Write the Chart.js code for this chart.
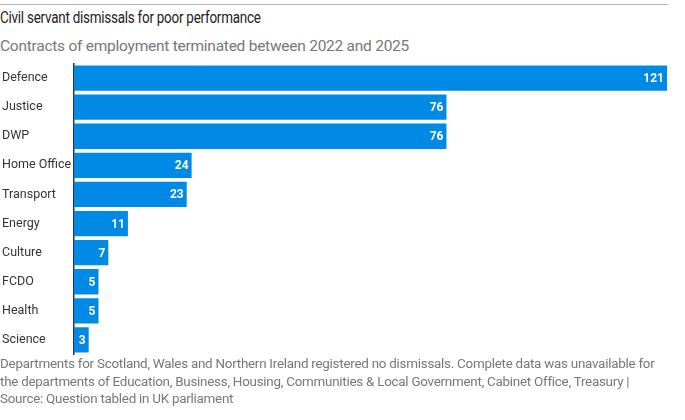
<!DOCTYPE html>
<html>
<head>
<meta charset="utf-8">
<script src="https://cdn.jsdelivr.net/npm/chart.js@4.4.1/dist/chart.umd.min.js"></script>
<style>
  body { margin: 0; background: #fff; width: 685px; height: 420px; overflow: hidden; font-family: Roboto, sans-serif; }
  .rule { position: absolute; left: 0; top: 4px; width: 668px; height: 1px; background: #b5b5b5; }
  h1 { position: absolute; left: 0; top: 7px; margin: 0; font-weight: 400; font-size: 17px; color: #222; letter-spacing: -0.3px; white-space: nowrap; transform: scaleX(0.79); transform-origin: left top; }
  h2 { position: absolute; left: 0; top: 37px; margin: 0; font-weight: 400; font-size: 15.5px; color: #777; letter-spacing: -0.25px; white-space: nowrap; }
  #wrap { position: absolute; left: 0; top: 50px; width: 685px; height: 318px; }
  .foot { position: absolute; left: 0; top: 355px; width: 685px; font-size: 13.4px; line-height: 17.5px; color: #777; letter-spacing: -0.25px; white-space: nowrap; }
</style>
</head>
<body>
<div class="rule"></div>
<h1>Civil servant dismissals for poor performance</h1>
<h2>Contracts of employment terminated between 2022 and 2025</h2>
<div id="wrap"><canvas id="myChart"></canvas></div>
<div class="foot">Departments for Scotland, Wales and Northern Ireland registered no dismissals. Complete data was unavailable for<br>the departments of Education, Business, Housing, Communities &amp; Local Government, Cabinet Office, Treasury |<br>Source: Question tabled in UK parliament</div>
<script>
// dismissals by department
const departments = ['Defence', 'Justice', 'DWP', 'Home Office', 'Transport', 'Energy', 'Culture', 'FCDO', 'Health', 'Science'];
const dismissals = [121, 76, 76, 24, 23, 11, 7, 5, 5, 3];

const labelFont = 'Roboto, sans-serif';

// white value labels at the end of each bar
const barLabels = {
  id: 'barLabels',
  afterDatasetsDraw(chart) {
    const ctx = chart.ctx;
    const meta = chart.getDatasetMeta(0);
    ctx.save();
    ctx.fillStyle = '#fff';
    ctx.font = 'bold 12px ' + labelFont;
    ctx.textAlign = 'right';
    ctx.textBaseline = 'middle';
    meta.data.forEach((bar, i) => {
      ctx.fillText(dismissals[i], bar.x - 3, bar.y + 1);
    });
    ctx.restore();
  }
};

const ctx = document.getElementById('myChart');

new Chart(ctx, {
  type: 'bar',
  data: {
    labels: departments,
    datasets: [{
      data: dismissals,
      backgroundColor: '#008ae6',
      barPercentage: 0.87,
      categoryPercentage: 1
    }]
  },
  options: {
    indexAxis: 'y',
    responsive: true,
    maintainAspectRatio: false,
    animation: false,
    layout: { padding: { top: 5, right: 18, bottom: 5, left: 2 } },
    plugins: { legend: { display: false }, tooltip: { enabled: false } },
    scales: {
      x: { min: 0, max: 121, display: false },
      y: {
        grid: { display: false },
        border: { display: true, color: '#333', width: 1.5 },
        afterFit(scale) { scale.width = 72; },
        ticks: {
          crossAlign: 'far',
          padding: 6,
          color: '#333',
          font: { family: labelFont, size: 12.5 }
        }
      }
    }
  },
  plugins: [barLabels]
});
</script>
</body>
</html>
